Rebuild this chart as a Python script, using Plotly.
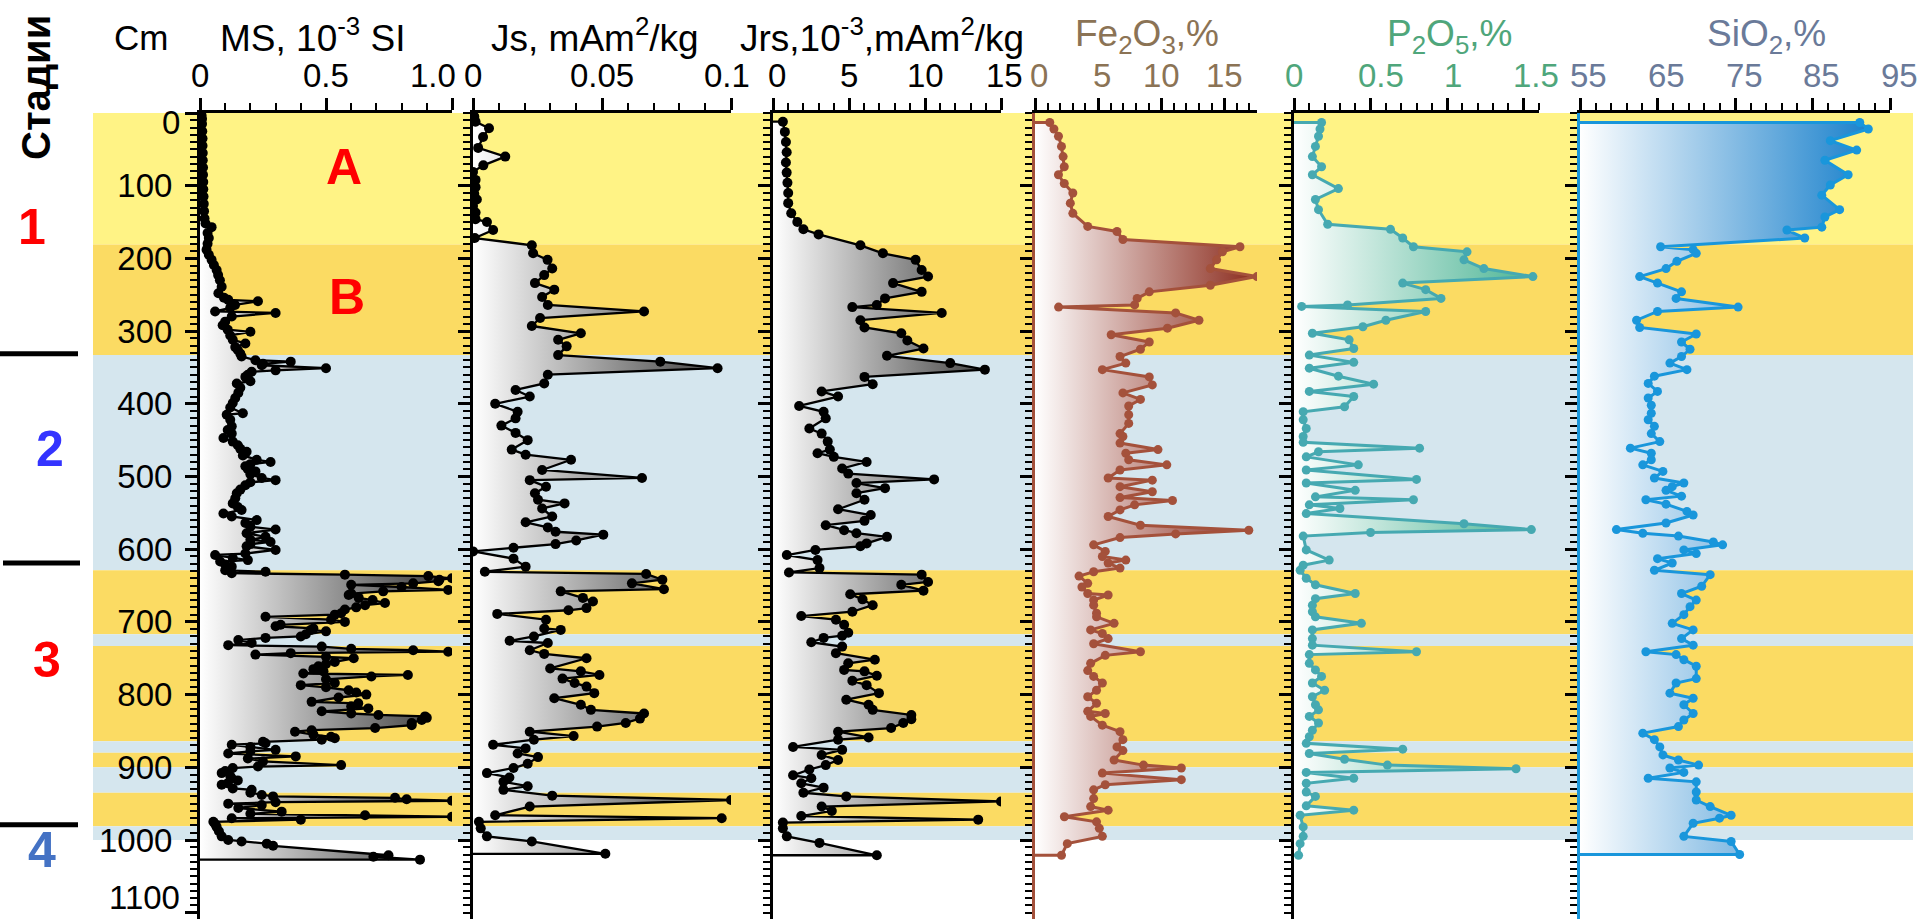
import plotly.graph_objects as go

# ---------------- data ----------------
depth_ticks = [0, 100, 200, 300, 400, 500, 600, 700, 800, 900, 1000, 1100]

ms_depth = [3, 8, 15, 25, 35, 45, 55, 65, 75, 85,
            95, 105, 115, 125, 135, 145, 152, 157, 165, 172,
            180, 188, 195, 202, 209, 216, 223, 230, 239, 248,
            254, 257, 259, 264, 268, 273, 275, 280, 287, 292,
            298, 301, 306, 312, 317, 322, 326, 331, 335, 340,
            342, 345, 347, 351, 354, 356, 360, 363, 369, 372,
            378, 385, 392, 399, 405, 413, 415, 422, 431, 436,
            441, 447, 452, 457, 462, 466, 471, 477, 480, 483,
            486, 490, 493, 497, 502, 505, 508, 512, 518, 523,
            530, 537, 542, 546, 551, 555, 560, 564, 569, 573,
            578, 583, 587, 590, 593, 596, 601, 606, 608, 612,
            615, 617, 621, 624, 629, 631, 633, 635, 637, 640,
            642, 644, 647, 649, 652, 656, 658, 661, 663, 667,
            670, 674, 677, 680, 683, 688, 690, 693, 697, 700,
            704, 706, 709, 711, 713, 717, 720, 722, 725, 729,
            732, 734, 737, 739, 741, 743, 745, 748, 750, 755,
            758, 761, 765, 768, 771, 773, 775, 779, 784, 787,
            790, 794, 797, 800, 804, 810, 812, 816, 819, 823,
            826, 828, 830, 832, 835, 839, 842, 846, 849, 851,
            855, 858, 860, 862, 865, 867, 869, 872, 876, 878,
            881, 885, 888, 892, 897, 899, 901, 905, 908, 912,
            915, 918, 922, 924, 929, 931, 935, 938, 940, 942,
            944, 946, 948, 950, 952, 956, 961, 964, 966, 968,
            970, 972, 975, 978, 982, 988, 995, 1000, 1002, 1005,
            1008, 1021, 1023, 1027]
ms_value = [.006, .008, .008, .009, .010, .010, .011, .011, .012, .012,
            .013, .013, .014, .015, .016, .018, .022, .046, .030, .035,
            .030, .026, .035, .046, .055, .066, .072, .079, .086, .073,
            .095, .112, .23, .139, .12, .06, .30, .126, .10, .09,
            .11, .20, .12, .13, .18, .14, .15, .16, .165, .22,
            .36, .25, .245, .50, .30, .205, .19, .18, .20, .146,
            .16, .152, .14, .13, .12, .17, .106, .12, .126, .11,
            .126, .093, .13, .15, .16, .185, .17, .225, .28, .20,
            .18, .19, .22, .20, .245, .30, .20, .18, .16, .146,
            .14, .13, .15, .165, .093, .126, .225, .18, .20, .30,
            .185, .26, .20, .28, .20, .185, .30, .18, .06, .13,
            .19, .08, .10, .126, .10, .26, .126, .575, .906, 1.0,
            .95, .946, .846, .60, .80, .985, .727, .60, .59, .63,
            .685, .734, .655, .62, .575, .56, .535, .26, .52, .575,
            .32, .30, .45, .44, .50, .42, .40, .26, .152, .205,
            .112, .483, .60, .846, .985, .36, .22, .50, .61, .535,
            .50, .47, .45, .49, .41, .825, .68, .50, .535, .40,
            .50, .59, .62, .66, .55, .443, .628, .60, .668, .483,
            .60, .708, .893, .90, .88, .84, .84, .695, .443, .377,
            .45, .52, .535, .483, .25, .26, .126, .20, .30, .20,
            .112, .38, .19, .25, .56, .23, .13, .10, .086, .12,
            .126, .15, .11, .086, .13, .205, .20, .245, .29, .774,
            .82, 1.0, .30, .112, .245, .152, .324, .20, .655, 1.0,
            .126, .40, .053, .06, .066, .075, .086, .112, .165, .265,
            .29, .748, .688, .873]

js_depth = [5, 12, 21, 33, 48, 60, 72, 81, 92, 102,
            111, 119, 128, 137, 146, 150, 161, 172, 182, 193,
            202, 214, 223, 234, 243, 253, 264, 273, 282, 293,
            303, 312, 321, 333, 342, 351, 360, 372, 381, 390,
            400, 411, 420, 430, 440, 450, 463, 470, 477, 491,
            502, 505, 514, 523, 532, 537, 544, 555, 563, 570,
            576, 580, 588, 593, 598, 603, 613, 624, 631, 634,
            642, 647, 655, 658, 667, 672, 681, 684, 689, 697,
            709, 711, 720, 726, 729, 739, 744, 750, 764, 768,
            773, 778, 784, 789, 798, 805, 814, 821, 826, 833,
            839, 844, 851, 857, 862, 869, 874, 881, 886, 895,
            901, 908, 914, 920, 926, 931, 939, 945, 954, 966,
            970, 975, 984, 995, 1002, 1019]
js_value = [.0005, .001, .0062, .0039, .002, .0125, .004, .0, .001, .001,
            .0005, .0015, .0, .001, .001, .0054, .0078, .0007, .0228, .0233,
            .0289, .0307, .0276, .024, .0315, .0268, .029, .0663, .026, .0228,
            .0418, .033, .0363, .033, .0726, .0948, .029, .0276, .0165, .022,
            .0086, .0173, .0165, .011, .0165, .0212, .015, .0204, .038, .0268,
            .0655, .022, .0283, .024, .0252, .0355, .0268, .0307, .0204, .029,
            .032, .0505, .04, .032, .0157, .0, .0157, .0204, .0046, .0671,
            .0734, .0616, .074, .034, .0426, .0465, .044, .037, .0094, .0283,
            .0276, .034, .0236, .0142, .029, .022, .0276, .044, .0299, .0418,
            .049, .0347, .0394, .044, .047, .0315, .0418, .0457, .0663, .0647,
            .0592, .0481, .022, .039, .0236, .0078, .0204, .0173, .0252, .0212,
            .0157, .0054, .0141, .0118, .0212, .0118, .0307, .1, .022, .0086,
            .0964, .0023, .003, .0054, .0228, .0513]

jrs_depth = [12, 26, 40, 54, 68, 82, 96, 110, 124, 138,
             150, 160, 167, 182, 193, 202, 216, 225, 234, 246,
             255, 264, 267, 275, 285, 295, 303, 313, 324, 334,
             344, 353, 363, 373, 383, 390, 403, 411, 420, 434,
             441, 452, 463, 468, 473, 480, 489, 496, 504, 509,
             516, 523, 532, 545, 553, 561, 567, 574, 578, 583,
             592, 596, 601, 608, 615, 626, 632, 635, 645, 649,
             657, 662, 669, 677, 686, 692, 697, 704, 715, 719,
             722, 728, 734, 743, 752, 757, 766, 768, 774, 781,
             787, 798, 807, 814, 821, 828, 834, 839, 846, 851,
             859, 862, 872, 876, 883, 890, 897, 903, 911, 915,
             922, 928, 935, 940, 947, 954, 960, 967, 972, 976,
             984, 995, 1004, 1021]
jrs_value = [.65, .78, .85, .9, .85, .9, .95, 1.0, 1.0, 1.2,
             1.6, 2.0, 3.0, 5.75, 7.23, 9.38, 9.78, 10.2, 7.9, 9.78,
             7.37, 6.83, 5.22, 11.1, 5.75, 6.02, 8.44, 8.84, 9.9, 7.5,
             11.66, 13.94, 6.02, 6.56, 3.2, 4.28, 1.72, 3.33, 3.47, 2.39,
             3.2, 3.6, 3.74, 2.93, 4.0, 6.16, 4.55, 4.95, 10.6, 5.49,
             7.37, 5.49, 6.02, 4.28, 6.43, 6.02, 3.47, 4.68, 5.49, 7.5,
             6.16, 5.75, 2.79, .91, 2.93, 3.06, 1.05, 9.78, 10.2, 8.44,
             9.9, 5.08, 5.89, 6.56, 5.22, 1.86, 4.14, 4.68, 4.95, 4.55,
             3.33, 2.52, 4.55, 4.14, 6.7, 4.95, 4.68, 6.02, 6.83, 5.22,
             6.16, 6.97, 4.82, 6.29, 6.56, 9.1, 9.1, 8.57, 7.77, 4.28,
             6.29, 4.28, 1.32, 4.55, 3.2, 4.28, 3.47, 2.39, 1.32, 2.52,
             1.86, 3.33, 2.0, 4.82, 15.0, 3.2, 3.87, 1.86, 13.5, .65,
             .65, .91, 3.06, 6.83]

fe_depth = [13, 22, 32, 46, 60, 74, 85, 97, 110, 124,
            138, 156, 163, 174, 184, 191, 202, 214, 225, 237,
            246, 255, 264, 267, 275, 285, 296, 305, 315, 325,
            335, 344, 353, 363, 374, 385, 394, 403, 415, 427,
            441, 445, 454, 463, 468, 477, 484, 491, 502, 505,
            514, 521, 529, 533, 539, 546, 555, 567, 574, 579,
            584, 594, 603, 610, 615, 619, 626, 631, 637, 647,
            652, 661, 663, 670, 677, 688, 693, 702, 711, 716,
            723, 730, 741, 746, 757, 767, 775, 784, 794, 803,
            812, 823, 826, 830, 842, 851, 862, 872, 877, 890,
            897, 901, 908, 917, 924, 931, 943, 954, 959, 968,
            975, 984, 995, 1005, 1021]
fe_value = [1.17, 1.5, 1.86, 2.1, 2.23, 2.32, 1.86, 2.32, 3.0, 2.8,
            3.0, 4.18, 6.5, 6.97, 16.25, 14.86, 14.4, 13.9, 17.6, 13.9,
            9.06, 8.1, 7.9, 1.87, 11.15, 13.0, 10.5, 6.04, 9.06, 8.36,
            6.74, 7.2, 5.34, 9.06, 9.3, 6.97, 8.36, 7.43, 7.43, 7.43,
            6.74, 6.97, 6.74, 9.75, 7.2, 7.43, 10.45, 6.74, 5.8, 9.3,
            6.74, 9.3, 6.74, 10.9, 7.9, 6.74, 5.8, 8.36, 16.95, 11.15,
            6.74, 4.65, 5.57, 5.34, 7.2, 5.8, 6.74, 4.65, 3.49, 4.18,
            3.72, 4.18, 5.8, 4.65, 4.65, 4.88, 4.88, 6.27, 4.41, 5.34,
            5.8, 4.65, 8.36, 5.57, 4.41, 4.18, 4.65, 5.34, 4.88, 4.18,
            4.88, 4.18, 5.57, 4.41, 5.34, 6.74, 6.97, 6.5, 6.97, 6.27,
            8.6, 11.6, 5.34, 11.6, 5.57, 4.65, 4.65, 4.41, 5.8, 2.33,
            4.88, 5.1, 5.34, 2.56, 2.1]

p_depth = [13, 22, 32, 46, 60, 74, 85, 104, 119, 133,
           153, 160, 172, 184, 191, 202, 214, 225, 234, 243,
           255, 264, 266, 273, 285, 294, 303, 312, 324, 333,
           343, 351, 362, 373, 383, 390, 404, 411, 422, 434,
           445, 453, 461, 466, 473, 484, 491, 504, 509, 519,
           528, 532, 539, 544, 551, 565, 573, 577, 582, 601,
           615, 622, 629, 640, 649, 661, 668, 677, 686, 693,
           702, 711, 723, 732, 741, 745, 757, 766, 775, 784,
           794, 803, 814, 821, 830, 839, 849, 858, 867, 875,
           881, 889, 897, 902, 907, 915, 922, 934, 940, 953,
           959, 966, 982, 995, 1005, 1021]
p_value = [.18, .17, .16, .14, .12, .18, .12, .29, .14, .16,
           .22, .63, .71, .78, 1.13, 1.11, 1.24, 1.56, .71, .86,
           .96, .35, .05, .86, .60, .45, .12, .36, .39, .1,
           .39, .1, .29, .52, .1, .39, .33, .06, .06, .08,
           .06, .06, .82, .16, .08, .42, .08, .80, .08, .40,
           .14, .78, .1, .3, .08, 1.11, 1.55, .5, .06, .08,
           .23, .06, .04, .08, .14, .40, .14, .12, .12, .14,
           .44, .12, .12, .12, .80, .1, .1, .14, .18, .12,
           .2, .12, .14, .16, .1, .16, .12, .1, .08, .71,
           .1, .33, .61, 1.45, .08, .39, .08, .08, .14, .08,
           .39, .04, .06, .06, .04, .03]

si_depth = [13, 22, 38, 51, 65, 85, 99, 113, 133, 143,
            157, 161, 172, 184, 188, 193, 204, 214, 225, 234,
            246, 255, 267, 273, 285, 295, 304, 315, 325, 335,
            344, 353, 362, 372, 383, 392, 402, 413, 422, 431,
            441, 452, 461, 468, 477, 484, 493, 502, 509, 514,
            519, 527, 532, 538, 548, 553, 564, 573, 578, 582,
            590, 594, 601, 606, 613, 619, 629, 635, 651, 661,
            670, 679, 690, 702, 711, 723, 732, 741, 745, 752,
            761, 778, 784, 798, 805, 814, 826, 835, 844, 853,
            862, 872, 883, 890, 897, 901, 907, 915, 920, 934,
            945, 954, 966, 970, 977, 995, 1002, 1020]
si_value = [91.1, 92.2, 87.3, 90.7, 86.6, 89.6, 87.3, 86.2, 88.5, 86.6,
            86.2, 81.7, 84.0, 65.4, 69.6, 70.0, 67.5, 66.1, 62.7, 65.0,
            68.1, 67.4, 75.4, 65.0, 62.3, 62.7, 70.0, 68.1, 69.2, 68.1,
            66.6, 68.8, 64.6, 63.8, 65.0, 63.8, 64.2, 64.2, 63.8, 64.6,
            64.2, 65.3, 61.5, 64.2, 64.2, 63.1, 65.7, 64.6, 68.4, 66.9,
            66.1, 68.1, 63.5, 66.1, 68.8, 69.6, 66.1, 59.7, 63.1, 67.7,
            72.2, 73.4, 68.4, 70.0, 65.0, 66.9, 64.6, 71.8, 70.7, 68.1,
            70.0, 69.2, 68.4, 66.9, 69.6, 68.1, 69.6, 63.5, 67.4, 68.4,
            70.0, 70.0, 67.4, 66.6, 69.6, 68.4, 69.6, 68.4, 67.7, 63.1,
            64.6, 65.3, 65.7, 67.7, 70.3, 66.6, 68.4, 63.8, 70.0, 70.0,
            70.0, 71.8, 74.5, 73.0, 69.6, 68.4, 74.5, 75.6]

# tick values / labels of the top axes
ms_ticks, ms_ticktext = [0, 0.5, 1.0], ["0", "0.5", "1.0"]
js_ticks, js_ticktext = [0, 0.05, 0.1], ["0", "0.05", "0.1"]
jrs_ticks, jrs_ticktext = [0, 5, 10, 15], ["0", "5", "10", "15"]
fe_ticks, fe_ticktext = [0, 5, 10, 15], ["0", "5", "10", "15"]
p_ticks, p_ticktext = [0, 0.5, 1, 1.5], ["0", "0.5", "1", "1.5"]
si_ticks, si_ticktext = [55, 65, 75, 85, 95], ["55", "65", "75", "85", "95"]

# background depth intervals (top, bottom, kind)
band_top = [0, 181, 333, 629, 717, 733, 864, 880, 900, 935, 981]
band_bottom = [181, 333, 629, 717, 733, 864, 880, 900, 935, 981, 1000]
band_kind = ["light", "gold", "blue", "gold", "blue", "gold", "blue", "gold", "blue", "gold", "blue"]

stage_labels = ["1", "2", "3", "4"]
stage_bounds = [331, 619, 979]

for a, b in [(ms_depth, ms_value), (js_depth, js_value), (jrs_depth, jrs_value),
             (fe_depth, fe_value), (p_depth, p_value), (si_depth, si_value)]:
    assert len(a) == len(b), (len(a), len(b))

# ---------------- layout helpers ----------------
W, H = 1917, 919
TOP = 113
PH = H - TOP
DMAX = PH / 0.727
FONT = "Liberation Sans, Arial, sans-serif"


def xp(px):
    return px / W


def yp(py):
    return 1 - (py - TOP) / PH


panels = [
    dict(depth=ms_depth, value=ms_value, px=(200, 452), rng=(0, 1.0), minor=0.1,
         ticks=ms_ticks, text=ms_ticktext, shift=[0, 0, -19], lab_color="black",
         title="MS, 10<sup>-3</sup> SI", tx=313, line="#000000", lw=2.3, msize=10,
         dark="#383838", yline="black"),
    dict(depth=js_depth, value=js_value, px=(473, 731), rng=(0, 0.1), minor=0.01,
         ticks=js_ticks, text=js_ticktext, shift=[0, 0, -4], lab_color="black",
         title="Js, mAm<sup>2</sup>/kg", tx=595, line="#000000", lw=2.3, msize=10,
         dark="#383838", yline="black"),
    dict(depth=jrs_depth, value=jrs_value, px=(773, 1001), rng=(0, 15), minor=1,
         ticks=jrs_ticks, text=jrs_ticktext, shift=[4, 0, 0, 3], lab_color="black",
         title="Jrs,10<sup>-3</sup>,mAm<sup>2</sup>/kg", tx=882, line="#000000", lw=2.3, msize=10,
         dark="#383838", yline="black"),
    dict(depth=fe_depth, value=fe_value, px=(1035, 1257), rng=(0, 17.6), minor=1,
         ticks=fe_ticks, text=fe_ticktext, shift=[4, 4, 0, 0], lab_color="#8b7355",
         title="Fe<sub>2</sub>O<sub>3</sub>,%", tx=1147, line="#a4513b", lw=3, msize=9,
         dark="#8a2a1c", yline="#a4513b"),
    dict(depth=p_depth, value=p_value, px=(1294, 1539), rng=(0, 1.6), minor=0.1,
         ticks=p_ticks, text=p_ticktext, shift=[0, 10, 6, 12], lab_color="#4fa67b",
         title="P<sub>2</sub>O<sub>5</sub>,%", tx=1449, line="#46a9b1", lw=3, msize=9,
         dark="#48b392", yline="black"),
    dict(depth=si_depth, value=si_value, px=(1580, 1890), rng=(55, 95), minor=2,
         ticks=si_ticks, text=si_ticktext, shift=[8, 9, 9, 9, 9], lab_color="#6a7a99",
         title="SiO<sub>2</sub>,%", tx=1766, line="#1996db", lw=3, msize=9,
         dark="#0a78c8", yline="#1996db"),
]

fig = go.Figure()
layout_axes = {}
annotations = []
shapes = []

# depth labels: edge labels (0 and 1100) are nudged inwards like in the original
depth_ticktext = [str(t) for t in depth_ticks]
edge_shift = {depth_ticks[0]: -9, depth_ticks[-1]: 15}
depth_ticktext_axis = ["" if t in edge_shift else s for t, s in zip(depth_ticks, depth_ticktext)]

for i, p in enumerate(panels, start=1):
    xa = "x" if i == 1 else f"x{i}"
    ya = "y" if i == 1 else f"y{i}"
    lo, hi = p["rng"]
    d, v = p["depth"], p["value"]
    poly_x = [lo] + list(v) + [lo]
    poly_y = [d[0]] + list(d) + [d[-1]]
    fig.add_trace(go.Scatter(
        x=poly_x, y=poly_y, xaxis=xa, yaxis=ya, mode="lines", fill="toself",
        fillgradient=dict(type="horizontal", colorscale=[[0, "#ffffff"], [1, p["dark"]]],
                          start=lo, stop=hi),
        line=dict(color=p["line"], width=p["lw"]), hoverinfo="skip", showlegend=False))
    fig.add_trace(go.Scatter(
        x=v, y=d, xaxis=xa, yaxis=ya, mode="markers",
        marker=dict(size=p["msize"], color=p["line"]), showlegend=False))

    xkey = "xaxis" if i == 1 else f"xaxis{i}"
    ykey = "yaxis" if i == 1 else f"yaxis{i}"
    layout_axes[xkey] = dict(
        domain=[xp(p["px"][0]), xp(p["px"][1])], range=[lo, hi], side="top", anchor=ya,
        showline=True, linecolor="black", linewidth=3, ticks="outside", tickmode="array",
        tickvals=p["ticks"], ticklen=12, tickwidth=2.5, tickcolor="black",
        showticklabels=False, showgrid=False, zeroline=False, fixedrange=True,
        minor=dict(dtick=p["minor"], tick0=lo, ticks="outside", ticklen=7, tickwidth=2,
                   tickcolor="black", showgrid=False))
    layout_axes[ykey] = dict(
        domain=[0, 1], range=[DMAX, 0], anchor=xa, showline=True, linecolor=p["yline"],
        linewidth=3, ticks="outside", tickmode="array", tickvals=depth_ticks,
        ticktext=depth_ticktext_axis, ticklen=12,
        tickwidth=2.5, tickcolor="black", showticklabels=(i == 1),
        tickfont=dict(size=33, color="black", family=FONT), ticklabelstandoff=6,
        showgrid=False, zeroline=False, fixedrange=True,
        minor=dict(dtick=10, tick0=0, ticks="outside", ticklen=7, tickwidth=2,
                   tickcolor="black", showgrid=False))

    # tick labels of top axis
    for val, txt, sh in zip(p["ticks"], p["text"], p["shift"]):
        annotations.append(dict(x=val, xref=xa, y=yp(76), yref="paper", text=txt,
                                showarrow=False, xanchor="center", yanchor="middle",
                                xshift=sh, font=dict(size=33, color=p["lab_color"], family=FONT)))
    # panel title
    annotations.append(dict(x=xp(p["tx"]), xref="paper", y=yp(36), yref="paper",
                            text=p["title"], showarrow=False, xanchor="center",
                            yanchor="middle",
                            font=dict(size=37, color=p["lab_color"], family=FONT)))

# nudged edge depth labels
for t, s in zip(depth_ticks, depth_ticktext):
    if t in edge_shift:
        annotations.append(dict(x=xp(182), xref="paper", y=t, yref="y", text=s,
                                showarrow=False, xanchor="right", yanchor="middle",
                                yshift=edge_shift[t],
                                font=dict(size=33, color="black", family=FONT)))

# "Cm" header
annotations.append(dict(x=xp(141), xref="paper", y=yp(37), yref="paper", text="Cm",
                        showarrow=False, xanchor="center", yanchor="middle",
                        font=dict(size=35, color="black", family=FONT)))
# Stage header
annotations.append(dict(x=xp(36), xref="paper", y=yp(88), yref="paper", text="<b>Стадии</b>",
                        textangle=-90, showarrow=False, xanchor="center", yanchor="middle",
                        font=dict(size=40, color="black", family=FONT)))
stage_pos = [(32, 227, "#ff0000"), (50, 449, "#3434ff"), (47, 660, "#ff0000"), (42, 850, "#4472c4")]
for lab, (sx, sy, col) in zip(stage_labels, stage_pos):
    annotations.append(dict(x=xp(sx), xref="paper", y=yp(sy), yref="paper",
                            text=f"<b>{lab}</b>", showarrow=False, xanchor="center",
                            yanchor="middle",
                            font=dict(size=50, color=col, family=FONT)))
for lab, (sx, sy) in zip(["A", "B"], [(344, 167), (347, 297)]):
    annotations.append(dict(x=xp(sx), xref="paper", y=yp(sy), yref="paper",
                            text=f"<b>{lab}</b>", showarrow=False, xanchor="center",
                            yanchor="middle",
                            font=dict(size=50, color="#ff0000", family=FONT)))

band_colors = {"light": "#fff385", "gold": "#fbdb63", "blue": "#d5e6ee"}
for t, b, k in zip(band_top, band_bottom, band_kind):
    shapes.append(dict(type="rect", xref="paper", yref="y", x0=xp(93), x1=xp(1913),
                       y0=t, y1=b, fillcolor=band_colors[k], line=dict(width=0), layer="below"))
for yb, (xa0, xa1) in zip(stage_bounds, [(0, 78), (3, 80), (0, 78)]):
    shapes.append(dict(type="line", xref="paper", yref="y", x0=xp(xa0), x1=xp(xa1),
                       y0=yb, y1=yb, line=dict(color="black", width=5)))

fig.update_layout(
    width=W, height=H, autosize=False,
    margin=dict(l=0, r=0, t=TOP, b=0, pad=0),
    paper_bgcolor="white", plot_bgcolor="rgba(0,0,0,0)",
    font=dict(family=FONT, size=33, color="black"),
    showlegend=False, annotations=annotations, shapes=shapes,
    **layout_axes)

fig.write_html("out.html", config={"displayModeBar": False},
               post_script="document.body.style.margin='0px';")
